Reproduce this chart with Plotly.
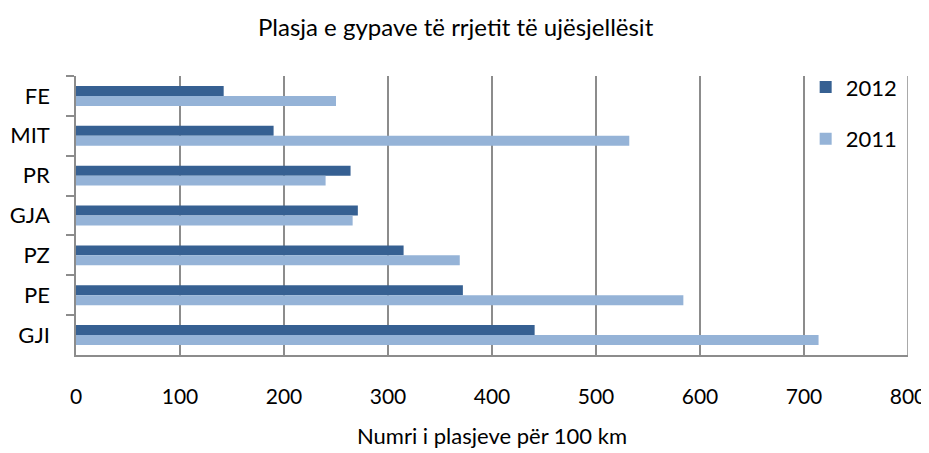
import plotly.graph_objects as go

categories = ['FE', 'MIT', 'PR', 'GJA', 'PZ', 'PE', 'GJI']
values_2012 = [142, 190, 264, 271, 315, 372, 441]
values_2011 = [250, 532, 240, 266, 369, 584, 714]
x_ticks = [0, 100, 200, 300, 400, 500, 600, 700, 800]

FONT = "Lato, 'Open Sans', sans-serif"
GRID = '#8c8c8c'

fig = go.Figure()
fig.add_trace(go.Bar(
    y=categories, x=values_2012, name='2012', orientation='h',
    marker=dict(color='#366092', line=dict(width=0)), legendgroup='a'
))
fig.add_trace(go.Bar(
    y=categories, x=values_2011, name='2011', orientation='h',
    marker=dict(color='#95b3d7', line=dict(width=0)), legendgroup='b'
))

# the page body adds an 8px margin, so the figure is a bit smaller than the window
fig.update_layout(
    width=921, height=445,
    barmode='group', bargap=0.5, bargroupgap=0,
    paper_bgcolor='white', plot_bgcolor='white',
    font=dict(family=FONT, color='#000000', size=22),
    title=dict(text='Plasja e gypave të rrjetit të ujësjellësit',
               x=0.486, xanchor='center', y=0.955, yanchor='middle',
               font=dict(size=24)),
    margin=dict(l=68, r=21, t=68, b=98),
    legend=dict(x=0.877, y=1.035, xanchor='left', yanchor='top',
                bgcolor='rgba(0,0,0,0)', font=dict(size=22),
                tracegroupgap=20, itemwidth=30),
    showlegend=True,
)

fig.update_xaxes(
    range=[0, 800], tickvals=x_ticks, showgrid=True, gridcolor=GRID, gridwidth=1.5,
    showline=True, linecolor=GRID, linewidth=1.5, mirror=False, zeroline=False,
    ticks='', ticklabelstandoff=22, tickfont=dict(size=21), automargin=False,
    title=dict(text='Numri i plasjeve për 100 km', font=dict(size=22), standoff=22),
)
fig.update_yaxes(
    autorange='reversed', showgrid=False, showline=True, linecolor=GRID, linewidth=1.5,
    ticks='outside', tickson='boundaries', ticklen=8, tickcolor=GRID, tickwidth=1.5,
    tickfont=dict(size=22), ticklabelstandoff=20, automargin=False,
)
# right border of plot
fig.add_shape(type='line', xref='x', yref='paper', x0=800, x1=800, y0=0, y1=1,
              line=dict(color=GRID, width=1.5))

fig.write_html("out.html")
